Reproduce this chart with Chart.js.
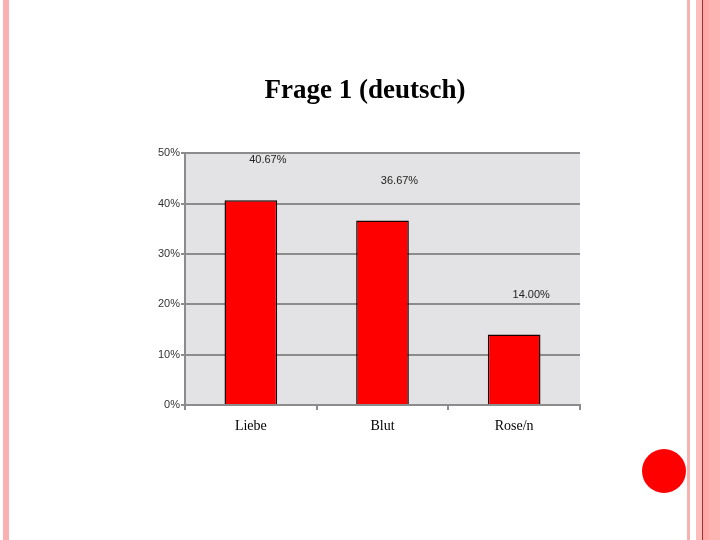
<!DOCTYPE html>
<html>
<head>
<meta charset="utf-8">
<script src="https://cdn.jsdelivr.net/npm/chart.js@4"></script>
<style>
    html, body { margin: 0; padding: 0; background: #fff; }
    #wrap { position: relative; width: 720px; height: 540px; overflow: hidden; }
    .stripe { position: absolute; top: 0; height: 540px; }
    #dot {
        position: absolute; left: 642px; top: 449px;
        width: 44px; height: 44px; border-radius: 50%; background: #ff0000;
    }
    canvas { position: absolute; left: 0; top: 0; }
</style>
</head>
<body>
<div id="wrap">
    <div class="stripe" style="left:3px;width:6px;background:#f8b0b0"></div>
    <div class="stripe" style="left:687px;width:3px;background:#f8b0b0"></div>
    <div class="stripe" style="left:696px;width:6px;background:#ffbcbc"></div>
    <div class="stripe" style="left:702px;width:1px;background:#a83030"></div>
    <div class="stripe" style="left:703px;width:6px;background:#ffa8a8"></div>
    <div class="stripe" style="left:709px;width:11px;background:#ffb4b4"></div>
    <div id="dot"></div>
    <canvas id="chart" width="720" height="540"></canvas>
</div>
<script>
    const categories = ["Liebe", "Blut", "Rose/n"];
    const shares = [40.67, 36.67, 14.0];
    const yTicks = [0, 10, 20, 30, 40, 50];

    // grey plot background
    const plotBackground = {
        id: "plotBackground",
        beforeDraw: (chart) => {
            const { ctx, chartArea } = chart;
            ctx.save();
            ctx.fillStyle = "#e3e3e5";
            ctx.fillRect(
                chartArea.left,
                chartArea.top,
                chartArea.right - chartArea.left,
                chartArea.bottom - chartArea.top
            );
            ctx.restore();
        },
    };

    // value labels, sitting up and to the right of each bar
    const valueLabels = {
        id: "valueLabels",
        afterDatasetsDraw: (chart) => {
            const { ctx } = chart;
            const meta = chart.getDatasetMeta(0);
            ctx.save();
            ctx.font = "11px 'Liberation Sans', sans-serif";
            ctx.fillStyle = "#222";
            ctx.textAlign = "center";
            ctx.textBaseline = "middle";
            meta.data.forEach((bar, i) => {
                ctx.fillText(shares[i].toFixed(2) + "%", bar.x + 17, bar.y - 40);
            });
            ctx.restore();
        },
    };

    const ctx = document.getElementById("chart").getContext("2d");
    new Chart(ctx, {
        type: "bar",
        data: {
            labels: categories,
            datasets: [
                {
                    data: shares,
                    backgroundColor: "#ff0000",
                    borderColor: "#1a0000",
                    borderWidth: 1.5,
                    barPercentage: 0.4,
                    categoryPercentage: 1,
                },
            ],
        },
        options: {
            responsive: false,
            animation: false,
            events: [],
            layout: {
                padding: { left: 150, right: 140, top: 0, bottom: 105 },
            },
            plugins: {
                legend: { display: false },
                tooltip: { enabled: false },
                title: {
                    display: true,
                    text: "Frage 1 (deutsch)",
                    color: "#000",
                    font: { family: "'Liberation Serif', serif", size: 27, weight: "bold" },
                    padding: { top: 75, bottom: 46 },
                },
            },
            scales: {
                x: {
                    afterFit: (scale) => { scale.height = 30; },
                    grid: {
                        offset: true,
                        drawOnChartArea: false,
                        drawTicks: true,
                        tickLength: 5,
                        color: "#8c8c8c",
                        lineWidth: 2,
                    },
                    border: { color: "#8c8c8c", width: 2 },
                    ticks: {
                        color: "#000",
                        padding: 8,
                        font: { family: "'Liberation Serif', serif", size: 14 },
                    },
                },
                y: {
                    min: 0,
                    max: 50,
                    afterFit: (scale) => { scale.width = 35; },
                    afterBuildTicks: (scale) => {
                        scale.ticks = yTicks.map((v) => ({ value: v }));
                    },
                    grid: {
                        color: "#8c8c8c",
                        lineWidth: 2,
                        tickLength: 4,
                    },
                    border: { color: "#8c8c8c", width: 2 },
                    ticks: {
                        color: "#333",
                        padding: 1,
                        font: { family: "'Liberation Sans', sans-serif", size: 11 },
                        callback: (v) => v + "%",
                    },
                },
            },
        },
        plugins: [plotBackground, valueLabels],
    });
</script>
</body>
</html>
